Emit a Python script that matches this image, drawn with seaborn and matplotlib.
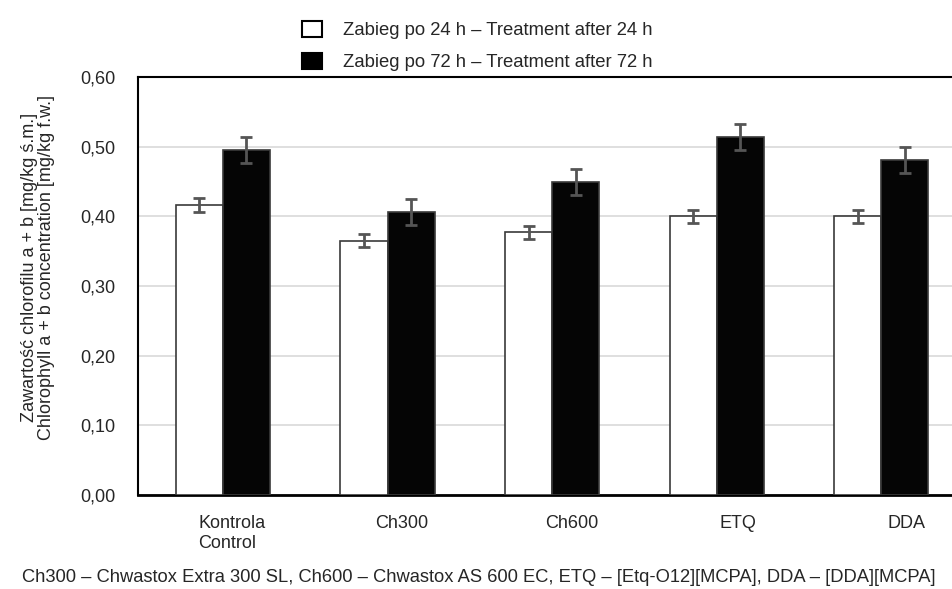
import matplotlib
matplotlib.use("Agg")
import matplotlib.pyplot as plt
import matplotlib.patches as mpatches
import matplotlib.transforms as mtransforms
import seaborn as sns
import pandas as pd
import numpy as np

# dane
categories = ["Kontrola\nControl", "Ch300", "Ch600", "ETQ", "DDA"]
series_names = ["Zabieg po 24 h \u2013 Treatment after 24 h",
                "Zabieg po 72 h \u2013 Treatment after 72 h"]
values_24h = [0.416, 0.365, 0.377, 0.400, 0.400]
values_72h = [0.495, 0.406, 0.449, 0.514, 0.481]
err_24h = [0.0096, 0.0094, 0.0097, 0.0098, 0.0098]
err_72h = [0.0187, 0.0187, 0.0190, 0.0187, 0.0184]
yticks = [0.0, 0.1, 0.2, 0.3, 0.4, 0.5, 0.6]
footnote = ("Ch300 \u2013 Chwastox Extra 300 SL, Ch600 \u2013 Chwastox AS 600 EC, "
            "ETQ \u2013 [Etq-O12][MCPA], DDA \u2013 [DDA][MCPA]")

sns.set_style("white")
plt.rcParams['font.family'] = ['Liberation Sans', 'DejaVu Sans']

df = pd.DataFrame({
    "kat": categories * 2,
    "val": values_24h + values_72h,
    "err": err_24h + err_72h,
    "seria": [series_names[0]] * 5 + [series_names[1]] * 5,
})

W, H = 953, 589
fig = plt.figure(figsize=(W / 100, H / 100), dpi=100)
px = 164.6
left, right = 138, 138 + 5.016 * px
top, bottom = 77, 495
ax = fig.add_axes([left / W, (H - bottom) / H, (right - left) / W, (bottom - top) / H])

sns.barplot(data=df, x="kat", y="val", hue="seria", order=categories,
            hue_order=series_names, palette=["white", "#050505"],
            width=0.572, gap=0, errorbar=None, legend=False,
            edgecolor="#3a3a3a", linewidth=1.2, ax=ax, zorder=3)

# słupki błędów
bar_conts = list(ax.containers)
for i, cont in enumerate(bar_conts):
    errs = err_24h if i == 0 else err_72h
    vals = values_24h if i == 0 else values_72h
    xs = [p.get_x() + p.get_width() / 2 for p in cont.patches]
    ax.errorbar(xs, vals, yerr=errs, fmt="none", ecolor="#555555",
                elinewidth=2, capsize=4.5, capthick=2, zorder=4)

ax.set_xlim(-0.516, 4.5)
ax.set_ylim(0, 0.6)
ax.set_yticks(yticks)
ax.set_yticklabels([f"{t:.2f}".replace(".", ",") for t in yticks], fontsize=13)
ax.tick_params(axis="y", length=0, pad=16)
ax.tick_params(axis="x", length=0, pad=14.5, labelsize=13)

# etykiety kategorii lekko przesunięte w prawo, jak w oryginale
label_dx_px = [9, 14, 19.5, 21.5, 25]
for lbl, dx in zip(ax.get_xticklabels(), label_dx_px):
    lbl.set_horizontalalignment("center")
    lbl.set_multialignment("left")
    lbl.set_linespacing(1.2)
    lbl.set_transform(lbl.get_transform() +
                      mtransforms.ScaledTranslation(dx / 100, 0, fig.dpi_scale_trans))

ax.yaxis.grid(True, color="#d9d9d9", linewidth=1.2, zorder=0)
ax.set_axisbelow(True)
ax.set_xlabel("")
ax.set_ylabel("Zawarto\u015b\u0107 chlorofilu a + b [mg/kg \u015b.m.]\n"
              "Chlorophyll a + b concentration [mg/kg f.w.]",
              fontsize=13, linespacing=1.0)
ax.yaxis.set_label_coords(-0.1, 0.545)
for s in ["left", "top", "right"]:
    ax.spines[s].set_linewidth(1.5)
    ax.spines[s].set_color("black")
ax.spines["bottom"].set_linewidth(2)
ax.spines["bottom"].set_color("black")

handles = [mpatches.Patch(facecolor="white", edgecolor="black", linewidth=1.5),
           mpatches.Patch(facecolor="black", edgecolor="black", linewidth=1.5)]
fig.legend(handles, series_names, loc="upper left", bbox_to_anchor=(285 / W, 1 - 4 / H),
           frameon=False, fontsize=13.3, handlelength=1.1, handleheight=1.0,
           handletextpad=1.15, labelspacing=0.72)

fig.text(22 / W, 1 - 578 / H, footnote, fontsize=13.2, va="center", ha="left")

fig.savefig("out.png", dpi=100)
